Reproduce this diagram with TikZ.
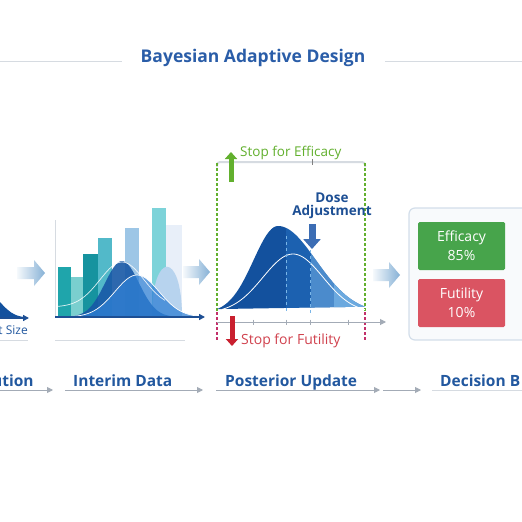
\documentclass[tikz,border=0pt]{standalone}
\usepackage{fontspec}
\setmainfont{Open Sans}
\usetikzlibrary{arrows.meta}

\definecolor{titleblue}{HTML}{2A5DA8}
\definecolor{labelblue}{HTML}{22589F}
\definecolor{axisblue}{HTML}{1D4F94}
\definecolor{rulegray}{HTML}{D6DBE1}
\definecolor{flowgray}{HTML}{A3ABB6}
\definecolor{arrowblue}{HTML}{86B1D6}
\definecolor{effgreen}{HTML}{62B02E}
\definecolor{futred}{HTML}{C9202F}
\definecolor{futdash}{HTML}{C2306A}
\definecolor{doseblue}{HTML}{3C6DB4}
\definecolor{curvedark}{HTML}{13519E}
\definecolor{curvemid}{HTML}{2F80D4}
\definecolor{curvelight}{HTML}{7AB6E8}
\definecolor{barA}{HTML}{1FA5AB}
\definecolor{barB}{HTML}{7ACFCF}
\definecolor{barC}{HTML}{16939F}
\definecolor{barD}{HTML}{52B9C9}
\definecolor{barE}{HTML}{9DC6E6}
\definecolor{barF}{HTML}{7DD3D9}
\definecolor{barG}{HTML}{E8EFF9}
\definecolor{barH}{HTML}{B7D3EE}
\definecolor{boxgreen}{HTML}{47A44B}
\definecolor{boxred}{HTML}{DA5462}
\definecolor{boxborder}{HTML}{D3DEEA}
\definecolor{boxfill}{HTML}{F8FAFC}

\begin{document}
\begin{tikzpicture}[x=1pt,y=-1pt,
  title/.style={font=\bfseries\fontsize{17.5}{20}\selectfont, text=titleblue},
  stage/.style={font=\bfseries\fontsize{15.5}{18}\selectfont, text=labelblue, anchor=base west, inner sep=0pt},
  rule/.style={draw=rulegray, line width=1pt},
  flow/.style={draw=flowgray, line width=0.9pt, -{Triangle[length=6pt,width=6pt]}},
  fat/.style={line width=#1, -{Triangle[length=1.4*#1,width=2.4*#1]}},
  bound/.style={line width=1.4pt, dash pattern=on 3pt off 2pt},
  decision/.style={minimum width=87pt, minimum height=48pt, text=white, align=center,
    font=\fontsize{14}{19}\selectfont, rounded corners=1.5pt}
]
  \fill[white] (0,0) rectangle (522,522);
  \clip (0,0) rectangle (522,522);

  % title
  \node[title] (title) at (253,58) {Bayesian Adaptive Design};
  \draw[rule] (0,61) -- (122,61);
  \draw[rule] (385,61) -- (522,61);

  % stage labels and flow line
  \node[stage] (prior) at (-8,386) {ution};
  \node[stage] (interim) at (73,386) {Interim Data};
  \node[stage] (posterior) at (225,386) {Posterior Update};
  \node[stage] (decision) at (440,386) {Decision B};
  \draw[flow] (0,390) -- (53,390);
  \draw[flow] (65,390) -- (203,390);
  \draw[flow] (216,390) -- (380,390);
  \draw[flow] (383,390) -- (421,390);
  \draw[rule] (432,390) -- (522,390);

  % fat arrows between panels
  \foreach \xa/\xb/\ym in {17/45/273, 183/210/272, 373/400/275}
    \shade[left color=arrowblue!8, right color=arrowblue]
      (\xa,\ym-6) -- (\xb-11,\ym-6) -- (\xb-11,\ym-13) -- (\xb,\ym)
      -- (\xb-11,\ym+13) -- (\xb-11,\ym+6) -- (\xa,\ym+6) -- cycle;
  \fill[gray!35, rounded corners=3] (519,269) rectangle (530,289);

  % prior panel (cut)
  \fill[curvedark] (0,302) .. controls (8,311) and (14,316) .. (24,317) -- (0,317) -- cycle;
  \draw[axisblue, line width=1.4pt, -{Triangle[length=6pt,width=6pt]}] (0,318) -- (29,318);
  \node[font=\fontsize{12}{14}\selectfont, text=labelblue, anchor=base east, inner sep=0pt]
    (effsize) at (28,334) {t Size};
  \draw[rule] (0,340) -- (28,340);

  % interim panel
  \draw[draw=rulegray, line width=1pt] (55,220) -- (55,317);
  \fill[barA] (58,267) rectangle (71,317);
  \fill[barB] (71,277) rectangle (83,317);
  \fill[barC] (83,254) rectangle (98,317);
  \fill[barD] (98,238) rectangle (112,317);
  \fill[barE] (125,228) rectangle (139,317);
  \fill[barF] (152,208) rectangle (166,317);
  \fill[barG] (166,225) rectangle (182,317);
  \fill[barH] (152,317) .. controls (152,250) and (182,250) .. (182,317) -- cycle;
  \fill[curvedark!85!curvemid, opacity=0.9]
    plot[domain=58:200, samples=60] (\x,{317-56*exp(-(\x-122)^2/578)}) -- cycle;
  \fill[curvemid, opacity=0.75]
    plot[domain=58:200, samples=60] (\x,{317-42*exp(-(\x-137)^2/968)}) -- cycle;
  \draw[white, line width=0.7pt]
    plot[domain=58:200, samples=60] (\x,{317-42*exp(-(\x-137)^2/968)});
  \draw[white, line width=0.7pt, opacity=0.85]
    plot[domain=56:165, samples=50] (\x,{307-45*exp(-(\x-122)^2/968)});
  \draw[axisblue, line width=1.5pt, -{Triangle[length=6pt,width=6pt]}] (55,317) -- (205,317);
  \draw[rule] (55,340) -- (185,340);

  % posterior panel
  \draw[draw=rulegray, line width=2pt, rounded corners=3] (217,167) -- (217,162) -- (365,162) -- (365,167);
  \draw[gray, line width=0.6pt] (312,159) -- (312,165);
  \draw[effgreen, bound] (217,163) -- (217,312);
  \draw[effgreen, bound] (365,163) -- (365,312);
  \draw[futdash, bound] (217,312) -- (217,341);
  \draw[futdash, bound] (365,312) -- (365,341);
  \fill[curvedark]
    plot[domain=217:365, samples=80] (\x,{313-87*exp(-(\x-278)^2/(2*(\x<278 ? 24.5 : 38)^2))}) -- cycle;
  \begin{scope}
    \clip (286,150) rectangle (370,320);
    \fill[curvemid, opacity=0.35]
      plot[domain=217:365, samples=80] (\x,{313-87*exp(-(\x-278)^2/(2*(\x<278 ? 24.5 : 38)^2))}) -- cycle;
  \end{scope}
  \begin{scope}
    \clip (311,150) rectangle (370,320);
    \fill[curvelight, opacity=0.5]
      plot[domain=217:365, samples=80] (\x,{313-87*exp(-(\x-278)^2/(2*(\x<278 ? 24.5 : 38)^2))}) -- cycle;
  \end{scope}
  \begin{scope}
    \clip (334,150) rectangle (370,320);
    \fill[curvelight, opacity=0.7]
      plot[domain=217:365, samples=80] (\x,{313-87*exp(-(\x-278)^2/(2*(\x<278 ? 24.5 : 38)^2))}) -- cycle;
  \end{scope}
  \draw[white, line width=0.8pt]
    plot[domain=222:365, samples=60] (\x,{313-59*exp(-(\x-293)^2/1800)});
  \draw[curvelight, line width=0.5pt, dashed] (286,236) -- (286,313);
  \draw[curvelight, line width=0.5pt, dashed] (310,244) -- (310,313);
  \draw[flowgray, line width=1pt, -{Triangle[length=6pt,width=6pt]}] (217,322) -- (386,322);
  \foreach \t in {253,286,310,348}
    \draw[flowgray, line width=0.8pt] (\t,319.5) -- (\t,324.5);

  \draw[effgreen, fat=5pt] (231,182) -- (231,152);
  \node[text=effgreen, font=\fontsize{13.5}{16}\selectfont, anchor=base west, inner sep=0pt]
    (stopeff) at (240,156) {Stop for Efficacy};
  \draw[futred, fat=5pt] (232,316) -- (232,346);
  \node[text=futred!85!white, font=\fontsize{14}{16}\selectfont, anchor=base west, inner sep=0pt]
    (stopfut) at (241,344) {Stop for Futility};
  \node[text=axisblue, font=\bfseries\fontsize{13.5}{13}\selectfont, align=center, anchor=north, inner sep=0pt]
    (dose) at (332,192.5) {Dose\\Adjustment};
  \draw[doseblue, fat=7pt] (312,224) -- (312,249);

  % decision panel (cut)
  \draw[draw=boxborder, fill=boxfill, line width=1.2pt, rounded corners=6] (409,208) rectangle (545,340);
  \node[decision, fill=boxgreen] (efficacy) at (461.5,246) {Efficacy\\85\%};
  \node[decision, fill=boxred] (futility) at (461.5,303) {Futility\\10\%};
\end{tikzpicture}
\end{document}
